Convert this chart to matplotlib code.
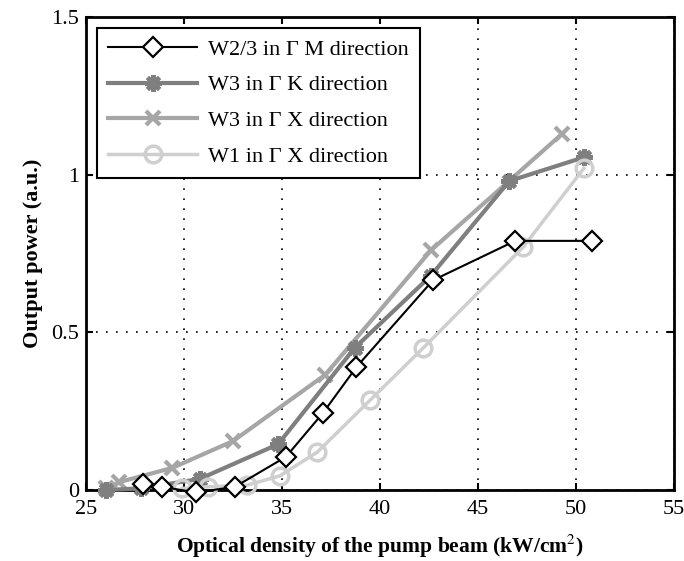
import matplotlib
matplotlib.use("Agg")
import matplotlib.pyplot as plt

# W2/3 in Gamma-M direction
x_w23 = [27.9, 28.9, 30.6, 32.6, 35.2, 37.1, 38.8, 42.7, 46.9, 50.8]
y_w23 = [0.02, 0.01, -0.008, 0.01, 0.105, 0.245, 0.39, 0.665, 0.79, 0.79]

# W3 in Gamma-K direction
x_w3k = [26.0, 27.8, 30.8, 34.8, 38.7, 42.6, 46.6, 50.4]
y_w3k = [0.0, 0.005, 0.035, 0.145, 0.45, 0.68, 0.98, 1.055]

# W3 in Gamma-X direction
x_w3x = [26.0, 26.7, 29.4, 32.5, 37.2, 42.6, 49.3]
y_w3x = [0.005, 0.025, 0.07, 0.155, 0.365, 0.76, 1.13]

# W1 in Gamma-X direction
x_w1x = [29.9, 31.2, 33.2, 34.9, 36.8, 39.5, 42.2, 47.3, 50.4]
y_w1x = [0.005, 0.01, 0.015, 0.045, 0.12, 0.285, 0.45, 0.77, 1.02]

labels = ["W2/3 in \u0393 M direction", "W3 in \u0393 K direction",
          "W3 in \u0393 X direction", "W1 in \u0393 X direction"]

plt.rcParams['font.family'] = ['Liberation Serif', 'DejaVu Serif']
plt.rcParams['mathtext.fontset'] = 'stix'

fig = plt.figure(figsize=(6.84, 5.61), dpi=100)
ax = fig.add_axes([0.1257, 0.1266, 0.8597, 0.8431])

ax.plot(x_w23, y_w23, color='black', lw=1.5, marker='D', ms=10, mfc='white',
        mec='black', mew=1.6, label=labels[0], clip_on=False, zorder=5)
ax.plot(x_w3k, y_w3k, color='#7f7f7f', lw=3, marker=(8, 2, 0), ms=12,
        mec='#7f7f7f', mew=3, label=labels[1], clip_on=False, zorder=3)
ax.plot(x_w3x, y_w3x, color='#a6a6a6', lw=3, marker='x', ms=10,
        mec='#a6a6a6', mew=3, label=labels[2], clip_on=False, zorder=2)
ax.plot(x_w1x, y_w1x, color='#cfcfcf', lw=2.5, marker='o', ms=12, mfc='none',
        mec='#cfcfcf', mew=2.5, label=labels[3], clip_on=False, zorder=4)

ax.set_xlim(25, 55)
ax.set_ylim(0, 1.5)
ax.set_xticks([25, 30, 35, 40, 45, 50, 55])
ax.set_yticks([0, 0.5, 1, 1.5])
ax.set_yticklabels(['0', '0.5', '1', '1.5'])
ax.grid(True, linestyle=(0, (1, 5)), color='black', lw=1.2)
ax.tick_params(direction='in', length=5, width=1.5, labelsize=16,
               top=True, right=True)
ax.tick_params(axis='x', pad=7)
ax.tick_params(axis='y', pad=5)
for s in ax.spines.values():
    s.set_linewidth(2)

ax.set_xlabel('Optical density of the pump beam (kW/cm$^2$)',
              fontsize=15.5, fontweight='bold', labelpad=10)
ax.set_ylabel('Output power (a.u.)', fontsize=16, fontweight='bold', labelpad=6)

leg = ax.legend(loc='upper left', fontsize=16, handlelength=4,
                fancybox=False, framealpha=1, edgecolor='black',
                borderaxespad=0.5, labelspacing=0.68, borderpad=0.5,
                handletextpad=0.5)
leg.get_frame().set_linewidth(1.5)

fig.savefig('out.png', dpi=100)
